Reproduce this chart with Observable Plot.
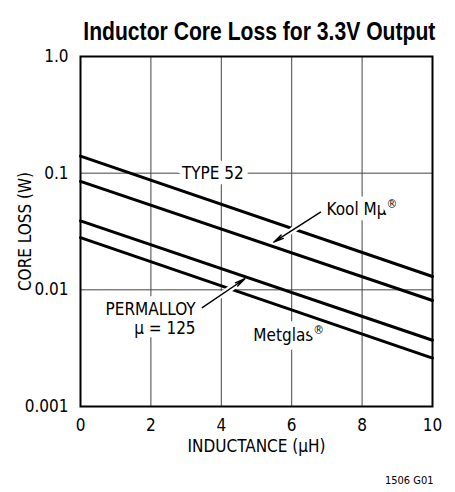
<!DOCTYPE html>
<html>
<head>
<meta charset="utf-8">
<script src="https://cdn.jsdelivr.net/npm/d3@7"></script>
<script src="https://cdn.jsdelivr.net/npm/@observablehq/plot@0.6"></script>
<style>
  html, body { margin: 0; padding: 0; background: white; }
  #wrap { width: 455px; height: 492px; position: relative; overflow: hidden; }
  #title {
    width: 455px; height: 44px; box-sizing: border-box;
    padding-top: 19px; padding-left: 51px; line-height: 25px;
    text-align: center; white-space: nowrap; overflow: visible;
  }
  #title span {
    display: inline-block; transform: scaleX(0.845); transform-origin: center;
    font-weight: bold; font-size: 25px;
    font-family: 'Liberation Sans', Arial, sans-serif; color: black;
  }
</style>
</head>
<body>
<div id="wrap">
  <div id="title"><span>Inductor Core Loss for 3.3V Output</span></div>
  <div id="chart"></div>
</div>
<script>
// ---- data ----
const inductance = [0, 10];                 // µH
const lossType52    = [0.14, 0.013];        // W
const lossKoolMu    = [0.085, 0.0081];
const lossPermalloy = [0.039, 0.0037];
const lossMetglas   = [0.028, 0.0026];
const seriesNames = ["TYPE 52", "Kool Mμ", "PERMALLOY", "Metglas"];
const seriesValues = [lossType52, lossKoolMu, lossPermalloy, lossMetglas];

const xTicks = [0, 2, 4, 6, 8, 10];
const yTicks = [0.001, 0.01, 0.1, 1];
const yTickLabels = ["0.001", "0.01", "0.1", "1.0"];
const xGrid = [2, 4, 6, 8];
const yGrid = [0.01, 0.1];

// annotations
const labelTexts   = ["TYPE 52", "Kool Mμ®", "Metglas®", "PERMALLOY", "μ = 125"];
const labelX       = [3.76, 6.99, 4.91, 3.27, 3.27];
const labelY       = [0.1, 0.0489, 0.00407, 0.00679, 0.0047];
const labelAnchors = ["middle", "start", "start", "end", "end"];

const arrowFromX = [6.82, 3.46];
const arrowFromY = [0.0463, 0.00703];
const arrowToX   = [5.49, 4.67];
const arrowToY   = [0.0256, 0.01245];

const xLabel = "INDUCTANCE (μH)";
const yLabel = "CORE LOSS (W)";
const figureNote = "1506 G01";

// ---- tables built from arrays ----
const lineData = seriesNames.flatMap((name, i) =>
  inductance.map((x, j) => ({series: name, x, y: seriesValues[i][j]})));
const labels = labelTexts.map((t, i) => ({t, x: labelX[i], y: labelY[i], a: labelAnchors[i]}));
const arrows = arrowFromX.map((_, i) => ({x1: arrowFromX[i], y1: arrowFromY[i], x2: arrowToX[i], y2: arrowToY[i]}));

const FONT = "'DejaVu Sans Condensed', 'Liberation Sans Narrow', 'Liberation Sans', sans-serif";
const FS = 17;

const textMark = (anchor) => Plot.text(labels.filter(d => d.a === anchor), {
  x: "x", y: "y", text: "t", textAnchor: anchor, lineAnchor: "middle",
  fontSize: FS, fill: "black", stroke: "white", strokeWidth: 12
});

const chart = Plot.plot({
  width: 455,
  height: 448,
  marginTop: 12,
  marginBottom: 86,
  marginLeft: 80,
  marginRight: 23,
  style: {fontFamily: FONT, fontSize: FS + "px", background: "white", overflow: "visible", color: "black"},
  x: {domain: [0, 10]},
  y: {type: "log", domain: [0.001, 1]},
  marks: [
    Plot.gridX(xGrid, {stroke: "#444", strokeOpacity: 1, strokeWidth: 1}),
    Plot.gridY(yGrid, {stroke: "#444", strokeOpacity: 1, strokeWidth: 1}),
    textMark("middle"),
    textMark("start"),
    textMark("end"),
    Plot.line(lineData, {x: "x", y: "y", z: "series", stroke: "black", strokeWidth: 3}),
    Plot.arrow(arrows, {x1: "x1", y1: "y1", x2: "x2", y2: "y2", stroke: "white", strokeWidth: 6, headLength: 0, insetEnd: 12, insetStart: 3}),
    Plot.arrow(arrows, {x1: "x1", y1: "y1", x2: "x2", y2: "y2", stroke: "black", strokeWidth: 1.4, headLength: 11, headAngle: 22}),
    Plot.frame({stroke: "black", strokeWidth: 2}),
    Plot.axisX(xTicks, {tickSize: 0, tickPadding: 12, fontSize: FS, label: null}),
    Plot.axisY(yTicks, {tickSize: 0, tickPadding: 12, fontSize: FS, label: null,
      tickFormat: d => yTickLabels[yTicks.indexOf(d)]}),
    Plot.text([yLabel], {text: d => d, frameAnchor: "left", rotate: -90, dx: -55, fontSize: FS, textAnchor: "middle", lineAnchor: "middle"}),
    Plot.text([xLabel], {text: d => d, frameAnchor: "bottom", dy: 40, fontSize: FS, textAnchor: "middle", lineAnchor: "middle"}),
    Plot.text([figureNote], {text: d => d, frameAnchor: "bottom-right", dx: 1, dy: 74, fontSize: 11, textAnchor: "end", lineAnchor: "middle"})
  ]
});

// superscript the registered-trademark signs
chart.querySelectorAll("text").forEach(t => {
  if (t.children.length === 0 && t.textContent.includes("®")) {
    const parts = t.textContent.split("®");
    t.textContent = parts[0];
    const s = document.createElementNS("http://www.w3.org/2000/svg", "tspan");
    s.setAttribute("font-size", "12");
    s.setAttribute("dy", "-7");
    s.textContent = "®";
    t.appendChild(s);
  }
});

document.getElementById("chart").appendChild(chart);
</script>
</body>
</html>
